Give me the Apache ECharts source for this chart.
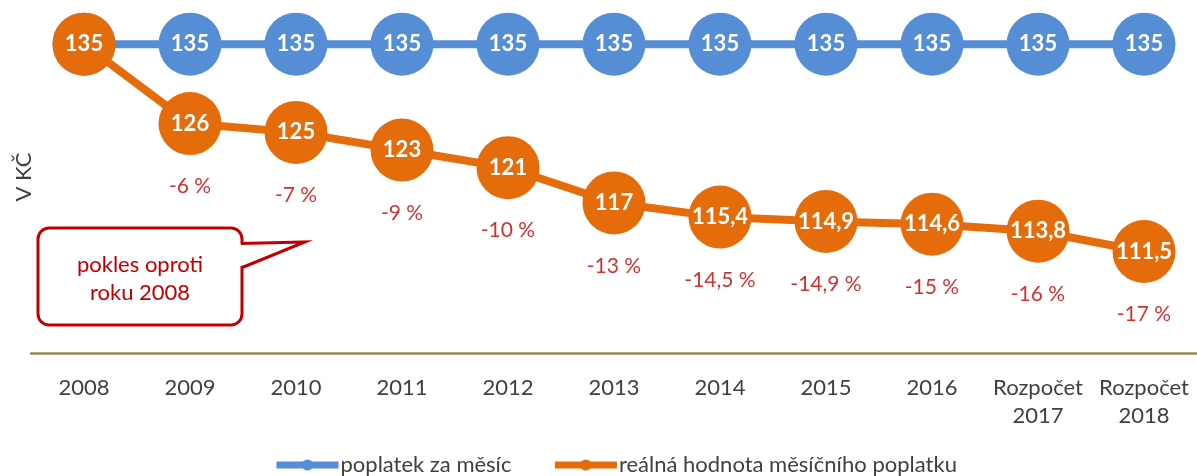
<!DOCTYPE html>
<html>
<head>
<meta charset="utf-8">
<script src="https://cdn.jsdelivr.net/npm/echarts@6/dist/echarts.min.js"></script>
<style>
    html, body { margin: 0; padding: 0; background: #fff; }
    #chart { width: 1197px; height: 476px; }
</style>
</head>
<body>
<div id="chart"></div>
<script>
const years = ["2008", "2009", "2010", "2011", "2012", "2013", "2014", "2015", "2016", "Rozpočet\n2017", "Rozpočet\n2018"];
const monthlyFee = [135, 135, 135, 135, 135, 135, 135, 135, 135, 135, 135];
const realValue = [135, 126, 125, 123, 121, 117, 115.4, 114.9, 114.6, 113.8, 111.5];
const declinePct = [null, -6, -7, -9, -10, -13, -14.5, -14.9, -15, -16, -17];

const seriesNames = ["poplatek za měsíc", "reálná hodnota měsíčního poplatku"];
const fontFamily = "Lato, 'Open Sans', sans-serif";
const czNumber = v => String(v).replace(".", ",");

const chart = echarts.init(document.getElementById("chart"));

const bubbleLabel = {
    show: true,
    position: "inside",
    color: "#fff",
    fontWeight: "bold",
    fontSize: 22,
    fontFamily,
    formatter: p => czNumber(p.value)
};

chart.setOption({
    animation: false,
    grid: { left: 31, right: 0, top: 0, bottom: 123 },
    legend: {
        data: seriesNames,
        left: 268,
        top: 449,
        itemWidth: 62,
        itemHeight: 14,
        itemGap: 40,
        lineStyle: { width: 7 },
        textStyle: { color: "#404040", fontSize: 22, fontFamily, padding: [0, 0, 0, -3] }
    },
    xAxis: {
        type: "category",
        data: years,
        axisLine: { lineStyle: { color: "#948A54", width: 2.5 } },
        axisTick: { show: false },
        axisLabel: {
            interval: 0,
            color: "#404040",
            fontSize: 22,
            fontFamily,
            margin: 21,
            lineHeight: 28
        }
    },
    yAxis: {
        type: "value",
        min: 100,
        max: 140,
        axisLine: { show: false },
        axisTick: { show: false },
        axisLabel: { show: false },
        splitLine: { show: false }
    },
    graphic: [
        {
            type: "text",
            x: 24,
            y: 177,
            rotation: Math.PI / 2,
            style: {
                text: "V KČ",
                fill: "#404040",
                fontSize: 22,
                fontFamily,
                align: "center",
                verticalAlign: "middle"
            }
        },
        {
            type: "rect",
            shape: { x: 38, y: 228, width: 204, height: 97, r: 11 },
            style: { fill: "#fff", stroke: "#C00000", lineWidth: 3 },
            z: 10
        },
        {
            type: "polygon",
            shape: { points: [[239, 244], [305, 242], [239, 267]] },
            style: { fill: "#fff" },
            z: 11
        },
        {
            type: "polyline",
            shape: { points: [[241, 243.5], [305, 242], [241, 268]] },
            style: { stroke: "#C00000", lineWidth: 3, fill: null },
            z: 12
        },
        {
            type: "text",
            x: 140,
            y: 279,
            style: {
                text: "pokles oproti\nroku 2008",
                fill: "#C00000",
                fontSize: 22,
                lineHeight: 28,
                fontFamily,
                align: "center",
                verticalAlign: "middle"
            },
            z: 13
        }
    ],
    series: [
        {
            name: seriesNames[0],
            type: "line",
            data: monthlyFee,
            symbol: "circle",
            symbolSize: 63,
            color: "#558ED5",
            lineStyle: { width: 8, color: "#558ED5" },
            label: bubbleLabel,
            z: 2
        },
        {
            name: seriesNames[1],
            type: "line",
            data: realValue,
            symbol: "circle",
            symbolSize: 63,
            color: "#E46C0A",
            lineStyle: { width: 8, color: "#E46C0A" },
            label: bubbleLabel,
            z: 3
        },
        {
            name: "pokles",
            type: "scatter",
            data: realValue.map((v, i) => declinePct[i] === null ? null : v),
            symbolSize: 1,
            itemStyle: { color: "rgba(0,0,0,0)" },
            silent: true,
            label: {
                show: true,
                position: "inside",
                offset: [0, 63],
                color: "#C00000",
                fontSize: 21,
                fontFamily,
                formatter: p => `${czNumber(declinePct[p.dataIndex])} %`
            },
            z: 4
        }
    ]
});

window.addEventListener("resize", () => chart.resize());
</script>
</body>
</html>
